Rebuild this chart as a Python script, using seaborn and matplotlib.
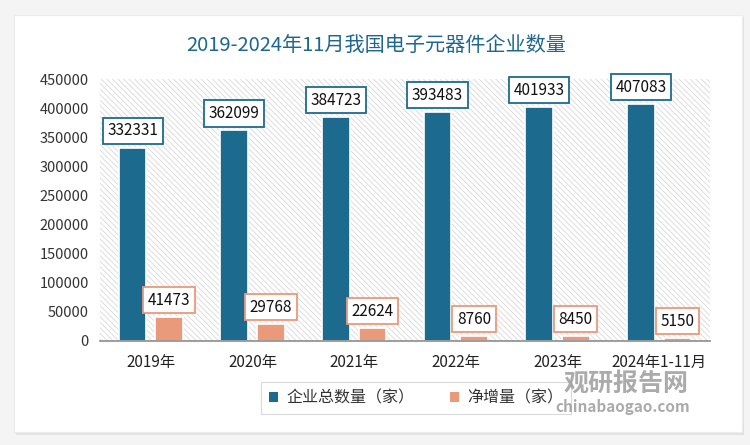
import matplotlib
matplotlib.use("Agg")
import matplotlib.pyplot as plt
from matplotlib.patches import Patch, Rectangle, FancyBboxPatch
import pandas as pd
import seaborn as sn

years = ["2019年", "2020年", "2021年", "2022年", "2023年", "2024年1-11月"]
total = [332331, 362099, 384723, 393483, 401933, 407083]
net_add = [41473, 29768, 22624, 8760, 8450, 5150]
series_names = ["企业总数量（家）", "净增量（家）"]
title = "2019-2024年11月我国电子元器件企业数量"

blue = "#1d6a8f"
salmon = "#e89a7a"

df = pd.DataFrame({
    "year": years * 2,
    "series": [series_names[0]] * len(years) + [series_names[1]] * len(years),
    "value": total + net_add,
})

sn.set_theme(style="white")
plt.rcParams["font.family"] = ["Noto Sans CJK SC", "DejaVu Sans"]

fig = plt.figure(figsize=(7.5, 4.45), dpi=100)
fig.patch.set_facecolor("#f4f4f4")

# white card with soft shadow
shadow = FancyBboxPatch((16 / 750, 10 / 445), 728 / 750, 418 / 445,
                        boxstyle="square,pad=0", transform=fig.transFigure,
                        facecolor="#e2e2e2", edgecolor="none", zorder=-2)
card = FancyBboxPatch((14 / 750, 13 / 445), 728 / 750, 417 / 445,
                      boxstyle="square,pad=0", transform=fig.transFigure,
                      facecolor="white", edgecolor="#ececec", lw=0.8, zorder=-1)
fig.patches.extend([shadow, card])

ax = fig.add_axes([100 / 750, 1 - 341 / 445, 610 / 750, 262 / 445])
ax.set_facecolor("none")

plt.rcParams["hatch.color"] = "#d8d8d8"
plt.rcParams["hatch.linewidth"] = 0.6
ax.add_patch(Rectangle((0, 0), 1, 1, transform=ax.transAxes, facecolor="white",
                       edgecolor="#d8d8d8", hatch="\\\\\\\\\\\\", lw=0, zorder=0))

sn.barplot(data=df, x="year", y="value", hue="series", palette=[blue, salmon],
           saturation=1, width=0.72, gap=0.25, legend=False, ax=ax, zorder=2,
           edgecolor="white", linewidth=1.2)

ax.set_xlim(-0.5, len(years) - 0.5)
ax.set_ylim(0, 450000)
ax.set_yticks(range(0, 450001, 50000))
ax.set_xlabel("")
ax.set_ylabel("")
ax.tick_params(axis="y", labelsize=10.5, colors="#333333", length=0, pad=8)
ax.tick_params(axis="x", labelsize=11, colors="#222222", length=0, pad=9)
for s in ["top", "right", "left"]:
    ax.spines[s].set_visible(False)
ax.spines["bottom"].set_color("#8c8c8c")
ax.spines["bottom"].set_linewidth(1.2)
ax.grid(False)

# value labels in boxes
for cont, col in zip(ax.containers, [blue, salmon]):
    for bar in cont:
        h = bar.get_height()
        ax.annotate(f"{int(h)}", (bar.get_x() + bar.get_width() / 2, h),
                    xytext=(0, 12), textcoords="offset points",
                    ha="center", va="center", fontsize=11, color="#111111",
                    bbox=dict(boxstyle="square,pad=0.3", fc="white", ec=col, lw=1.3),
                    zorder=5)

fig.text(376 / 750, 1 - 45 / 445, title, ha="center", va="center",
         fontsize=14.5, color="#1f6690")

# watermark
fig.text(626 / 750, 1 - 384 / 445, "观研报告网", ha="center", va="center",
         fontsize=18, fontweight="bold", color="#8f8f8f", alpha=0.75, zorder=10)
fig.text(623 / 750, 1 - 407 / 445, "chinabaogao.com", ha="center", va="center",
         fontsize=11, fontweight="bold", color="#8f8f8f", alpha=0.75, zorder=10)

handles = [Patch(facecolor=blue, edgecolor="none"), Patch(facecolor=salmon, edgecolor="none")]
leg = fig.legend(handles, series_names, loc="center", bbox_to_anchor=(416 / 750, 1 - 398 / 445),
                 ncol=2, fontsize=11.5, frameon=True, fancybox=False, handlelength=0.6,
                 handleheight=0.6, handletextpad=0.5, columnspacing=2.2, borderpad=0.5)
leg.get_frame().set_edgecolor("#d0d0d0")
leg.get_frame().set_linewidth(0.8)
leg.get_frame().set_alpha(0.8)
for t in leg.get_texts():
    t.set_color("#333333")

fig.savefig("out.png", dpi=100)
